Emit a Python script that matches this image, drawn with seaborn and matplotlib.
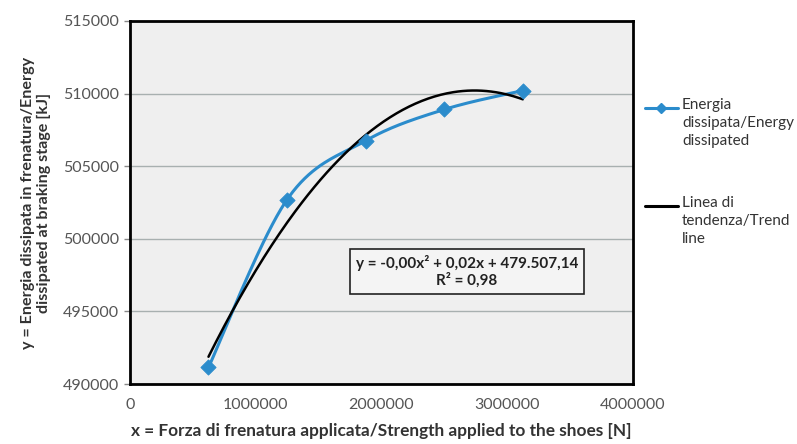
import numpy as np
import pandas as pd
import matplotlib
matplotlib.use("Agg")
import matplotlib.pyplot as plt
import seaborn as sns
from matplotlib.lines import Line2D

# Data
force_n = [625000, 1250000, 1875000, 2500000, 3125000]
energy_kj = [491150, 502700, 506750, 508900, 510200]

x_ticks = [0, 1000000, 2000000, 3000000, 4000000]
y_ticks = [490000, 495000, 500000, 505000, 510000, 515000]

equation_text = "y = -0,00x\u00b2 + 0,02x + 479.507,14\nR\u00b2 = 0,98"
series_label = "Energia\ndissipata/Energy\ndissipated"
trend_label = "Linea di\ntendenza/Trend\nline"

sns.set_style("white")
plt.rcParams["font.family"] = ["Lato", "DejaVu Sans"]

blue = "#2b8ccc"
text_grey = "#555555"

df = pd.DataFrame({"x": force_n, "y": energy_kj})

fig = plt.figure(figsize=(7.97, 4.44), dpi=100)
ax = fig.add_axes([0.163, 0.135, 0.631, 0.818])
ax.set_facecolor("#efefef")

xlim = (0, 4000000)
ylim = (490000, 515000)


# Excel-style smoothed line (Catmull-Rom in normalized axis space)
def smooth(xs, ys, n=40):
    px = (np.asarray(xs, float) - xlim[0]) / (xlim[1] - xlim[0]) * 5.0
    py = (np.asarray(ys, float) - ylim[0]) / (ylim[1] - ylim[0]) * 8.0
    pts = np.column_stack([px, py])
    pts = np.vstack([pts[0], pts, pts[-1]])
    out = []
    for i in range(1, len(pts) - 2):
        p0, p1, p2, p3 = pts[i - 1], pts[i], pts[i + 1], pts[i + 2]
        for t in np.linspace(0, 1, n, endpoint=False):
            t2, t3 = t * t, t * t * t
            out.append(0.5 * ((2 * p1) + (-p0 + p2) * t
                              + (2 * p0 - 5 * p1 + 4 * p2 - p3) * t2
                              + (-p0 + 3 * p1 - 3 * p2 + p3) * t3))
    out.append(pts[-2])
    out = np.array(out)
    sx = out[:, 0] / 5.0 * (xlim[1] - xlim[0]) + xlim[0]
    sy = out[:, 1] / 8.0 * (ylim[1] - ylim[0]) + ylim[0]
    return sx, sy


sx, sy = smooth(df["x"], df["y"])
ax.plot(sx, sy, color=blue, lw=2.2, zorder=3)
sns.scatterplot(data=df, x="x", y="y", ax=ax, marker="D", s=60,
                color=blue, edgecolor=blue, zorder=4, legend=False)

# Polynomial trend line (order 2)
coef = np.polyfit(df["x"], df["y"], 2)
tx = np.linspace(df["x"].min(), df["x"].max(), 200)
sns.lineplot(x=tx, y=np.polyval(coef, tx), ax=ax, color="black", lw=1.8, zorder=3)

ax.set_xlim(*xlim)
ax.set_ylim(*ylim)
ax.set_xticks(x_ticks)
ax.set_yticks(y_ticks)
ax.set_xticklabels([str(v) for v in x_ticks], color=text_grey, fontsize=11.5)
ax.set_yticklabels([str(v) for v in y_ticks], color=text_grey, fontsize=11.5)
ax.tick_params(axis="y", length=4, width=1, color="#888888", pad=4, left=True)
ax.tick_params(axis="x", length=0, pad=10)
ax.yaxis.grid(True, color="#a8b0b0", lw=1)
ax.set_axisbelow(True)
for s in ax.spines.values():
    s.set_color("black")
    s.set_linewidth(2)

ax.set_xlabel("x = Forza di frenatura applicata/Strength applied to the shoes [N]",
              fontsize=12.4, fontweight="bold", color="#333333", labelpad=8)
ax.set_ylabel("y = Energia dissipata in frenatura/Energy\ndissipated at braking stage [kJ]",
              fontsize=11.6, fontweight="bold", color="#333333", labelpad=8)

ax.text(0.67, 0.31, equation_text, transform=ax.transAxes, ha="center", va="center",
        fontsize=11, fontweight="bold", color="#222222", linespacing=1.2,
        bbox=dict(boxstyle="square,pad=0.4", facecolor="#f4f4f4",
                  edgecolor="#222222", lw=1.2), zorder=5)

# Legend drawn to the right, handle aligned with the first text line (Excel style)
W, H = 797, 444
legend_items = [(series_label, blue, "D", 108), (trend_label, "black", None, 206)]
for label, col, mk, ypx in legend_items:
    yf = 1 - ypx / H
    fig.add_artist(Line2D([645 / W, 678 / W], [yf, yf], color=col, lw=2.2,
                          transform=fig.transFigure))
    if mk:
        fig.add_artist(Line2D([661 / W], [yf], color=col, marker=mk, markersize=5,
                              transform=fig.transFigure))
    fig.text(682 / W, yf + 10 / H, label, ha="left", va="top", fontsize=11,
             color="#333333", linespacing=1.35)

fig.savefig("out.png", dpi=100, facecolor="white")
